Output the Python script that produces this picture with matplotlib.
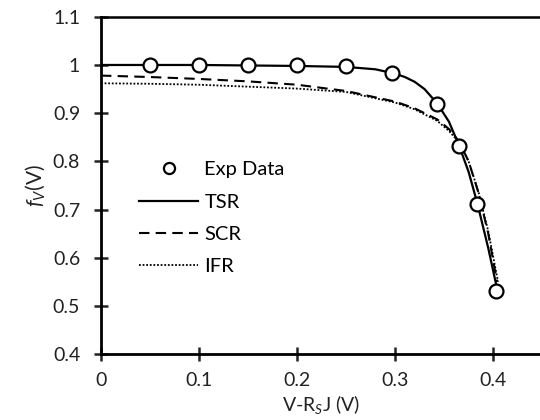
import matplotlib
matplotlib.use("Agg")
import matplotlib.pyplot as plt
from matplotlib.ticker import FuncFormatter

plt.rcParams['font.family'] = ['Lato', 'DejaVu Sans']
plt.rcParams['mathtext.fontset'] = 'custom'
plt.rcParams['mathtext.it'] = 'Lato:italic'
plt.rcParams['mathtext.rm'] = 'Lato'

# experimental points
exp_v = [0.05, 0.10, 0.15, 0.20, 0.25, 0.297, 0.343, 0.365, 0.384, 0.403]
exp_f = [1.000, 1.000, 1.000, 1.000, 0.997, 0.984, 0.918, 0.832, 0.712, 0.530]

# model curves
tsr_v = [0.0, 0.05, 0.10, 0.15, 0.20, 0.25, 0.28, 0.30, 0.31, 0.32, 0.33, 0.343, 0.355, 0.365, 0.375, 0.384, 0.395, 0.403]
tsr_f = [1.000, 1.000, 1.000, 0.999, 0.998, 0.996, 0.991, 0.982, 0.975, 0.965, 0.950, 0.920, 0.882, 0.834, 0.778, 0.712, 0.620, 0.545]

scr_v = [0.0, 0.05, 0.10, 0.15, 0.20, 0.25, 0.30, 0.32, 0.343, 0.355, 0.365, 0.375, 0.385, 0.395, 0.404]
scr_f = [0.978, 0.975, 0.971, 0.966, 0.959, 0.946, 0.924, 0.910, 0.887, 0.867, 0.842, 0.800, 0.735, 0.650, 0.550]

ifr_v = [0.0, 0.05, 0.10, 0.15, 0.20, 0.25, 0.30, 0.32, 0.343, 0.355, 0.365, 0.375, 0.385, 0.395, 0.405]
ifr_f = [0.962, 0.961, 0.959, 0.955, 0.951, 0.944, 0.922, 0.908, 0.884, 0.863, 0.840, 0.800, 0.737, 0.655, 0.550]

fig = plt.figure(figsize=(5.4, 4.2), dpi=100)
ax = fig.add_axes([0.187, 0.157, 0.817, 0.803])

ax.plot(exp_v, exp_f, 'o', ms=10, mfc='white', mec='black', mew=1.6, label='Exp Data', zorder=5)
ax.plot(tsr_v, tsr_f, '-', color='black', lw=1.6, label='TSR')
ax.plot(scr_v, scr_f, '--', color='black', lw=1.5, dashes=(5, 3), label='SCR')
ax.plot(ifr_v, ifr_f, ':', color='black', lw=1.3, dashes=(1, 1), label='IFR')

ax.set_xlim(0, 0.45)
ax.set_ylim(0.4, 1.1)
ax.set_xticks([0, 0.1, 0.2, 0.3, 0.4])
ax.set_yticks([0.4, 0.5, 0.6, 0.7, 0.8, 0.9, 1.0, 1.1])
fmt = FuncFormatter(lambda v, p: '%g' % round(v, 2))
ax.xaxis.set_major_formatter(fmt)
ax.yaxis.set_major_formatter(fmt)
ax.tick_params(direction='inout', length=10, width=1.8, labelsize=14, colors='#222222')
ax.tick_params(axis='x', pad=8)
ax.tick_params(axis='y', pad=10)
for s in ['left', 'bottom']:
    ax.spines[s].set_linewidth(2)
ax.spines['top'].set_linewidth(1.8)
ax.spines['right'].set_linewidth(1.5)

ax.set_xlabel('V-R$_S$J (V)', fontsize=14, color='#222222', labelpad=3)
ax.set_ylabel('$f_V$(V)', fontsize=15, color='#222222', labelpad=4)

leg = ax.legend(loc='upper left', bbox_to_anchor=(0.045, 0.625), frameon=False,
                fontsize=14.5, handlelength=2.95, handletextpad=0.3, labelspacing=0.75,
                markerscale=0.8)

fig.savefig('out.png', dpi=100)
